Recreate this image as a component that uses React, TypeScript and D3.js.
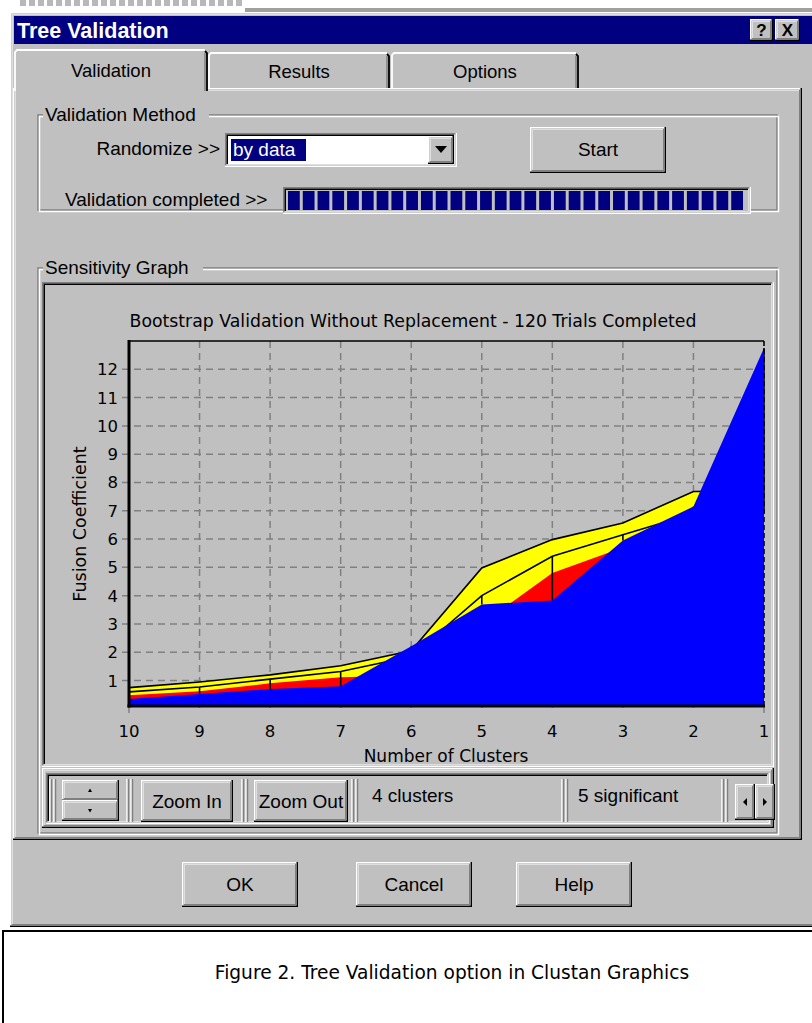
import React from "react";
import * as d3 from "d3";

// ---------- data ----------
const clusters = [10, 9, 8, 7, 6, 5, 4, 3, 2, 1];
const fusionLower = [0.35, 0.52, 0.7, 0.8, 2.21, 3.69, 3.83, 5.95, 7.15, 12.75];
const redLevel = [0.48, 0.62, 0.9, 1.12, 1.18, 3.0, 4.8, 5.7, 6.6, 6.6];
const meanLevel = [0.6, 0.77, 1.05, 1.32, 1.85, 4.0, 5.39, 6.15, 6.9, 6.9];
const upperLevel = [0.75, 0.95, 1.2, 1.52, 2.05, 4.98, 5.98, 6.57, 7.68, 7.7];
const yTicks = [1, 2, 3, 4, 5, 6, 7, 8, 9, 10, 11, 12];

const chartTitle = "Bootstrap Validation Without Replacement - 120 Trials Completed";
const xAxisLabel = "Number of Clusters";
const yAxisLabel = "Fusion Coefficient";
const tabLabels = ["Validation", "Results", "Options"];
const dialogButtons = ["OK", "Cancel", "Help"];
const caption = "Figure 2. Tree Validation option in Clustan Graphics";
const progressBlocks = 31;

// ---------- helpers ----------
const FACE = "#c0c0c0";
const UI = "'Liberation Sans', Arial, sans-serif";
const CH = "'DejaVu Sans', Verdana, sans-serif";

function Bevel({ x, y, w, h, sunken = false, face = FACE, s = 1.5 }: any) {
  const tlO = sunken ? "#808080" : "#ffffff";
  const brO = sunken ? "#ffffff" : "#000000";
  const tlI = sunken ? "#000000" : "#dfdfdf";
  const brI = sunken ? "#dfdfdf" : "#808080";
  return (
    <g>
      <rect x={x} y={y} width={w} height={h} fill={brO} />
      <rect x={x} y={y} width={w - s} height={h - s} fill={tlO} />
      <rect x={x + s} y={y + s} width={w - 2 * s} height={h - 2 * s} fill={brI} />
      <rect x={x + s} y={y + s} width={w - 3 * s} height={h - 3 * s} fill={tlI} />
      <rect x={x + 2 * s} y={y + 2 * s} width={w - 4 * s} height={h - 4 * s} fill={face} />
    </g>
  );
}

function Etched({ x, y, w, h, label, lw }: any) {
  return (
    <g>
      <rect x={x} y={y} width={w} height={h} fill="none" stroke="#808080" strokeWidth={1.5} />
      <rect x={x + 1.5} y={y + 1.5} width={w} height={h} fill="none" stroke="#ffffff" strokeWidth={1.5} />
      <rect x={x + 5} y={y - 10} width={lw} height={20} fill={FACE} />
      <text x={x + 7} y={y + 6} fontFamily={UI} fontSize={19} fill="#000">{label}</text>
    </g>
  );
}

function Grip({ x, y, h }: any) {
  return (
    <g>
      <line x1={x} x2={x} y1={y} y2={y + h} stroke="#fff" strokeWidth={1.5} />
      <line x1={x + 1.5} x2={x + 1.5} y1={y} y2={y + h} stroke="#808080" strokeWidth={1.5} />
      <line x1={x + 4} x2={x + 4} y1={y} y2={y + h} stroke="#fff" strokeWidth={1.5} />
      <line x1={x + 5.5} x2={x + 5.5} y1={y} y2={y + h} stroke="#808080" strokeWidth={1.5} />
    </g>
  );
}

function Chart() {
  const plot = { left: 129, right: 764, top: 341, bottom: 706 };
  const x = d3.scaleLinear().domain([10, 1]).range([plot.left, plot.right]);
  const y = d3.scaleLinear().domain([0.1, 13]).range([plot.bottom, plot.top]);
  const idx = clusters.map((_, i) => i);

  const area = (vals: number[]) =>
    d3.area<number>().x((i) => x(clusters[i])).y0(plot.bottom).y1((i) => y(vals[i]))(idx) as string;
  const line = (vals: number[]) =>
    d3.line<number>().x((i) => x(clusters[i])).y((i) => y(vals[i]))(idx) as string;

  return (
    <g>
      <text x={413} y={327} textAnchor="middle" fontFamily={CH} fontSize={17.3} fill="#000">{chartTitle}</text>
      {/* gridlines */}
      {yTicks.map((t) => (
        <line key={"h" + t} x1={plot.left - 7} x2={plot.right} y1={y(t)} y2={y(t)} stroke="#808080" strokeWidth={1.5} strokeDasharray="7 5" />
      ))}
      {clusters.slice(1, -1).map((c) => (
        <line key={"v" + c} x1={x(c)} x2={x(c)} y1={plot.top} y2={plot.bottom + 7} stroke="#808080" strokeWidth={1.5} strokeDasharray="7 5" />
      ))}
      <line x1={plot.left} x2={plot.left} y1={plot.bottom} y2={plot.bottom + 7} stroke="#808080" strokeWidth={1.5} />
      <line x1={plot.right} x2={plot.right} y1={plot.bottom} y2={plot.bottom + 7} stroke="#808080" strokeWidth={1.5} />
      {/* bands */}
      <path d={area(upperLevel)} fill="#ffff00" />
      <path d={area(redLevel)} fill="#ff0000" />
      <path d={line(meanLevel)} fill="none" stroke="#000" strokeWidth={1.6} />
      <path d={line(upperLevel)} fill="none" stroke="#000" strokeWidth={1.6} />
      {clusters.map((c, i) => (
        <line key={"e" + c} x1={x(c)} x2={x(c)} y1={y(fusionLower[i])} y2={y(meanLevel[i])} stroke="#000" strokeWidth={1.6} />
      ))}
      <path d={area(fusionLower)} fill="#0000ff" />
      {/* frame */}
      <line x1={plot.right} x2={plot.right} y1={plot.top} y2={plot.bottom} stroke="#000" strokeWidth={1.6} strokeDasharray="5 3" />
      <line x1={plot.left} x2={plot.right} y1={plot.top} y2={plot.top} stroke="#000" strokeWidth={1.6} />
      <line x1={plot.left} x2={plot.left} y1={plot.top - 1} y2={plot.bottom + 1.5} stroke="#000" strokeWidth={3} />
      <line x1={plot.left - 1.5} x2={plot.right + 1} y1={plot.bottom} y2={plot.bottom} stroke="#000" strokeWidth={3} />
      {/* tick labels */}
      {yTicks.map((t) => (
        <text key={"yl" + t} x={118} y={y(t) + 6} textAnchor="end" fontFamily={CH} fontSize={16.5} fill="#000">{t}</text>
      ))}
      {clusters.map((c) => (
        <text key={"xl" + c} x={x(c)} y={737} textAnchor="middle" fontFamily={CH} fontSize={16.5} fill="#000">{c}</text>
      ))}
      <text x={446} y={762} textAnchor="middle" fontFamily={CH} fontSize={17} fill="#000">{xAxisLabel}</text>
      <text transform="translate(86,524) rotate(-90)" textAnchor="middle" fontFamily={CH} fontSize={17.5} fill="#000">{yAxisLabel}</text>
    </g>
  );
}

export default function App() {
  const tabs = [
    { x: 14, w: 194, cx: 111 },
    { x: 208, w: 182, cx: 299 },
    { x: 391, w: 188, cx: 485 },
  ];
  const btnX = [182, 356, 516];
  const blockW = (750 - 288 - 4) / progressBlocks;
  return (
    <svg width={812} height={1023} style={{ position: "absolute", left: 0, top: 0, background: "#fff" }}>
      {/* window behind */}
      <rect x={0} y={0} width={812} height={1023} fill="#ffffff" />
      <g fill="#b8b8b8">
        {d3.range(20, 245, 9).map((v) => (
          <rect key={v} x={v} y={0} width={6} height={6} />
        ))}
      </g>
      <rect x={245} y={8} width={567} height={4} fill="#a0a0a0" />
      {/* dialog */}
      <Bevel x={10} y={12} w={812} h={915} />
      <rect x={14} y={16} width={800} height={28} fill="#000080" />
      <text x={17} y={38} fontFamily={UI} fontWeight="bold" fontSize={21.5} fill="#fff">Tree Validation</text>
      <Bevel x={750} y={19} w={23} h={22} />
      <text x={761.5} y={36} textAnchor="middle" fontFamily={UI} fontWeight="bold" fontSize={17} fill="#000">?</text>
      <Bevel x={775} y={19} w={25} h={22} />
      <text x={787.5} y={36} textAnchor="middle" fontFamily={UI} fontWeight="bold" fontSize={17} fill="#000">X</text>

      {/* tab panel */}
      <Bevel x={13} y={88} w={789} h={752} />
      {tabs.map((t, i) => {
        const sel = i === 0;
        const top = sel ? 50 : 53;
        const bottom = sel ? 91 : 88;
        return (
          <g key={i}>
            <rect x={t.x} y={top} width={t.w} height={bottom - top} fill={FACE} />
            <path d={`M${t.x + 1},${bottom} V${top + 2} L${t.x + 3},${top} H${t.x + t.w - 3}`} fill="none" stroke="#fff" strokeWidth={1.8} />
            <path d={`M${t.x + t.w - 3},${top + 1} L${t.x + t.w - 1},${top + 3} V${bottom}`} fill="none" stroke="#000" strokeWidth={1.8} />
            <line x1={t.x + t.w - 3} x2={t.x + t.w - 3} y1={top + 3} y2={bottom} stroke="#808080" strokeWidth={1.5} />
            <text x={t.cx} y={sel ? 77 : 78} textAnchor="middle" fontFamily={UI} fontSize={18.5} fill="#000">{tabLabels[i]}</text>
          </g>
        );
      })}

      {/* Validation method */}
      <Etched x={38} y={115} w={739} h={95} label="Validation Method" lw={166} />
      <text x={220} y={155} textAnchor="end" fontFamily={UI} fontSize={19} fill="#000">Randomize &gt;&gt;</text>
      <Bevel x={225} y={133} w={232} h={34} sunken face="#ffffff" />
      <rect x={231} y={139} width={75} height={22} fill="#000080" />
      <text x={233} y={156} fontFamily={UI} fontSize={19} fill="#fff">by data</text>
      <Bevel x={428} y={136} w={26} h={28} />
      <path d="M435,146 L447,146 L441,153 Z" fill="#000" />
      <Bevel x={530} y={127} w={136} h={46} />
      <text x={598} y={156} textAnchor="middle" fontFamily={UI} fontSize={19} fill="#000">Start</text>
      <text x={65} y={206} fontFamily={UI} fontSize={19} fill="#000">Validation completed &gt;&gt;</text>
      <Bevel x={283} y={187} w={468} h={27} sunken />
      {d3.range(progressBlocks).map((i) => (
        <rect key={i} x={288 + i * blockW} y={191} width={blockW - 3} height={19} fill="#000080" />
      ))}

      {/* Sensitivity graph */}
      <Etched x={38} y={268} w={739} h={565} label="Sensitivity Graph" lw={160} />
      <Bevel x={42} y={282} w={732} h={485} sunken />
      <Chart />

      {/* toolbar */}
      <Bevel x={42} y={768} w={732} h={60} />
      <Bevel x={46} y={773} w={724} h={51} sunken />
      <Grip x={50} y={779} h={43} />
      <Bevel x={62} y={780} w={57} h={21} />
      <Bevel x={62} y={800} w={57} h={21} />
      <path d="M88,792 L92,792 L90,788.5 Z" fill="#000" />
      <path d="M88,809 L92,809 L90,812.5 Z" fill="#000" />
      <Grip x={127} y={779} h={43} />
      <Bevel x={141} y={780} w={92} h={42} />
      <text x={187} y={808} textAnchor="middle" fontFamily={UI} fontSize={19} fill="#000">Zoom In</text>
      <Grip x={242} y={779} h={43} />
      <Bevel x={254} y={780} w={94} h={42} />
      <text x={301} y={808} textAnchor="middle" fontFamily={UI} fontSize={19} fill="#000">Zoom Out</text>
      <Grip x={352} y={779} h={43} />
      <text x={372} y={802} fontFamily={UI} fontSize={19} fill="#000">4 clusters</text>
      <Grip x={562} y={779} h={43} />
      <text x={578} y={802} fontFamily={UI} fontSize={19} fill="#000">5 significant</text>
      <Grip x={722} y={779} h={43} />
      <Bevel x={735} y={784} w={20} h={36} />
      <path d="M747,798 L747,806 L743,802 Z" fill="#000" />
      <Bevel x={755} y={784} w={20} h={36} />
      <path d="M763,798 L763,806 L767,802 Z" fill="#000" />

      {/* dialog buttons */}
      {dialogButtons.map((b, i) => (
        <g key={b}>
          <Bevel x={btnX[i]} y={862} w={116} h={45} />
          <text x={btnX[i] + 58} y={891} textAnchor="middle" fontFamily={UI} fontSize={19} fill="#000">{b}</text>
        </g>
      ))}

      {/* caption */}
      <rect x={3} y={931} width={820} height={110} fill="#fff" stroke="#000" strokeWidth={2} />
      <text x={452} y={979} textAnchor="middle" fontFamily={CH} fontSize={18.6} fill="#000">{caption}</text>
    </svg>
  );
}
